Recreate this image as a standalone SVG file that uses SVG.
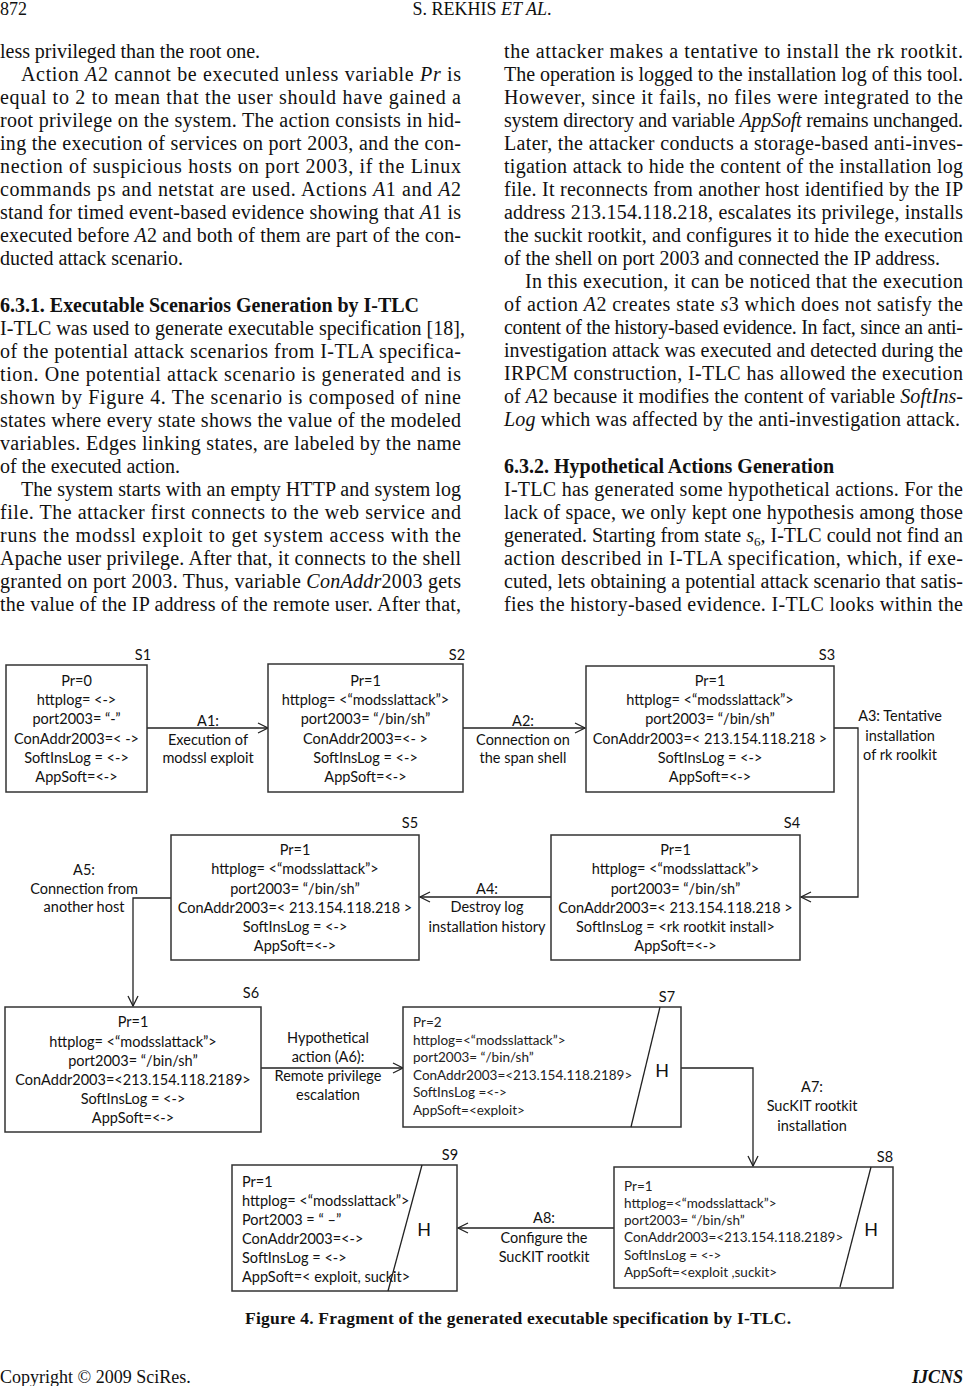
<svg xmlns="http://www.w3.org/2000/svg" width="965" height="1386" viewBox="0 0 965 1386">
<style>
.b{font-family:"Liberation Serif","Times New Roman",serif;font-size:20px;fill:#111}
.h{font-weight:bold}
.i{font-style:italic}
.d{font-family:Lato,"Liberation Sans",sans-serif;font-size:14.5px;fill:#111}
.c{text-anchor:middle}
.sm{font-family:Lato,"Liberation Sans",sans-serif;font-size:13.5px;fill:#222}
.box{fill:#fff;stroke:#333;stroke-width:1.5}
.cn{fill:none;stroke:#222;stroke-width:1.3}
.dg{stroke:#222;stroke-width:1.3}
.H{font-family:Lato,"Liberation Sans",sans-serif;font-size:18px;fill:#111;text-anchor:middle}
</style>
<defs>
<marker id="ar" markerUnits="userSpaceOnUse" markerWidth="14" markerHeight="14" refX="11" refY="6" orient="auto">
<path d="M1,1 L11,6 L1,11" fill="none" stroke="#222" stroke-width="1.3"/>
</marker>
</defs>
<rect width="965" height="1386" fill="#fff"/>

<!-- header -->
<text class="b" x="0" y="15" style="font-size:18px">872</text>
<text class="b" x="482" y="15" text-anchor="middle" style="font-size:18px">S. REKHIS <tspan class="i">ET AL</tspan>.</text>

<!-- left column -->
<g id="left-column">
<text class="b" x="0" y="58" textLength="260" lengthAdjust="spacing">less privileged than the root one.</text>
<text class="b" x="21" y="81" textLength="440" lengthAdjust="spacing">Action <tspan class="i">A</tspan>2 cannot be executed unless variable <tspan class="i">Pr</tspan> is</text>
<text class="b" x="0" y="104" textLength="461" lengthAdjust="spacing">equal to 2 to mean that the user should have gained a</text>
<text class="b" x="0" y="127" textLength="461" lengthAdjust="spacing">root privilege on the system. The action consists in hid-</text>
<text class="b" x="0" y="150" textLength="461" lengthAdjust="spacing">ing the execution of services on port 2003, and the con-</text>
<text class="b" x="0" y="173" textLength="461" lengthAdjust="spacing">nection of suspicious hosts on port 2003, if the Linux</text>
<text class="b" x="0" y="196" textLength="461" lengthAdjust="spacing">commands ps and netstat are used. Actions <tspan class="i">A</tspan>1 and <tspan class="i">A</tspan>2</text>
<text class="b" x="0" y="219" textLength="461" lengthAdjust="spacing">stand for timed event-based evidence showing that <tspan class="i">A</tspan>1 is</text>
<text class="b" x="0" y="242" textLength="461" lengthAdjust="spacing">executed before <tspan class="i">A</tspan>2 and both of them are part of the con-</text>
<text class="b" x="0" y="265" textLength="183" lengthAdjust="spacing">ducted attack scenario.</text>
<text class="b h" x="0" y="312" textLength="419" lengthAdjust="spacing">6.3.1. Executable Scenarios Generation by I-TLC</text>
<text class="b" x="0" y="335" textLength="465" lengthAdjust="spacing">I-TLC was used to generate executable specification [18],</text>
<text class="b" x="0" y="358" textLength="461" lengthAdjust="spacing">of the potential attack scenarios from I-TLA specifica-</text>
<text class="b" x="0" y="381" textLength="461" lengthAdjust="spacing">tion. One potential attack scenario is generated and is</text>
<text class="b" x="0" y="404" textLength="461" lengthAdjust="spacing">shown by Figure 4. The scenario is composed of nine</text>
<text class="b" x="0" y="427" textLength="461" lengthAdjust="spacing">states where every state shows the value of the modeled</text>
<text class="b" x="0" y="450" textLength="461" lengthAdjust="spacing">variables. Edges linking states, are labeled by the name</text>
<text class="b" x="0" y="473" textLength="180" lengthAdjust="spacing">of the executed action.</text>
<text class="b" x="21" y="496" textLength="440" lengthAdjust="spacing">The system starts with an empty HTTP and system log</text>
<text class="b" x="0" y="519" textLength="461" lengthAdjust="spacing">file. The attacker first connects to the web service and</text>
<text class="b" x="0" y="542" textLength="461" lengthAdjust="spacing">runs the modssl exploit to get system access with the</text>
<text class="b" x="0" y="565" textLength="461" lengthAdjust="spacing">Apache user privilege. After that, it connects to the shell</text>
<text class="b" x="0" y="588" textLength="461" lengthAdjust="spacing">granted on port 2003. Thus, variable <tspan class="i">ConAddr</tspan>2003 gets</text>
<text class="b" x="0" y="611" textLength="461" lengthAdjust="spacing">the value of the IP address of the remote user. After that,</text>
</g>

<!-- right column -->
<g id="right-column">
<text class="b" x="504" y="58" textLength="459" lengthAdjust="spacing">the attacker makes a tentative to install the rk rootkit.</text>
<text class="b" x="504" y="81" textLength="459" lengthAdjust="spacing">The operation is logged to the installation log of this tool.</text>
<text class="b" x="504" y="104" textLength="459" lengthAdjust="spacing">However, since it fails, no files were integrated to the</text>
<text class="b" x="504" y="127" textLength="459" lengthAdjust="spacing">system directory and variable <tspan class="i">AppSoft</tspan> remains unchanged.</text>
<text class="b" x="504" y="150" textLength="459" lengthAdjust="spacing">Later, the attacker conducts a storage-based anti-inves-</text>
<text class="b" x="504" y="173" textLength="459" lengthAdjust="spacing">tigation attack to hide the content of the installation log</text>
<text class="b" x="504" y="196" textLength="459" lengthAdjust="spacing">file. It reconnects from another host identified by the IP</text>
<text class="b" x="504" y="219" textLength="459" lengthAdjust="spacing">address 213.154.118.218, escalates its privilege, installs</text>
<text class="b" x="504" y="242" textLength="459" lengthAdjust="spacing">the suckit rootkit, and configures it to hide the execution</text>
<text class="b" x="504" y="265" textLength="436" lengthAdjust="spacing">of the shell on port 2003 and connected the IP address.</text>
<text class="b" x="525" y="288" textLength="438" lengthAdjust="spacing">In this execution, it can be noticed that the execution</text>
<text class="b" x="504" y="311" textLength="459" lengthAdjust="spacing">of action <tspan class="i">A</tspan>2 creates state <tspan class="i">s</tspan>3 which does not satisfy the</text>
<text class="b" x="504" y="334" textLength="459" lengthAdjust="spacing">content of the history-based evidence. In fact, since an anti-</text>
<text class="b" x="504" y="357" textLength="459" lengthAdjust="spacing">investigation attack was executed and detected during the</text>
<text class="b" x="504" y="380" textLength="459" lengthAdjust="spacing">IRPCM construction, I-TLC has allowed the execution</text>
<text class="b" x="504" y="403" textLength="459" lengthAdjust="spacing">of <tspan class="i">A</tspan>2 because it modifies the content of variable <tspan class="i">SoftIns-</tspan></text>
<text class="b" x="504" y="426" textLength="456" lengthAdjust="spacing"><tspan class="i">Log</tspan> which was affected by the anti-investigation attack.</text>
<text class="b h" x="504" y="473" textLength="330" lengthAdjust="spacing">6.3.2. Hypothetical Actions Generation</text>
<text class="b" x="504" y="496" textLength="459" lengthAdjust="spacing">I-TLC has generated some hypothetical actions. For the</text>
<text class="b" x="504" y="519" textLength="459" lengthAdjust="spacing">lack of space, we only kept one hypothesis among those</text>
<text class="b" x="504" y="542" textLength="459" lengthAdjust="spacing">generated. Starting from state <tspan class="i">s</tspan><tspan font-size="13" dy="4">6</tspan><tspan dy="-4">, I-TLC could not find an</tspan></text>
<text class="b" x="504" y="565" textLength="459" lengthAdjust="spacing">action described in I-TLA specification, which, if exe-</text>
<text class="b" x="504" y="588" textLength="459" lengthAdjust="spacing">cuted, lets obtaining a potential attack scenario that satis-</text>
<text class="b" x="504" y="611" textLength="459" lengthAdjust="spacing">fies the history-based evidence. I-TLC looks within the</text>
</g>

<!-- connectors -->
<g id="connectors">
<path class="cn" d="M147,728 H268" marker-end="url(#ar)"/>
<path class="cn" d="M463,728 H585" marker-end="url(#ar)"/>
<path class="cn" d="M834,728 H858 V897 H801" marker-end="url(#ar)"/>
<path class="cn" d="M551,897 H420" marker-end="url(#ar)"/>
<path class="cn" d="M171,898 H133 V1006" marker-end="url(#ar)"/>
<path class="cn" d="M261,1068 H403" marker-end="url(#ar)"/>
<path class="cn" d="M681,1068 H753 V1166" marker-end="url(#ar)"/>
<path class="cn" d="M614,1228 H458" marker-end="url(#ar)"/>
<text class="d c" x="208" y="726">A1:</text>
<text class="d c" x="208" y="745">Execution of</text>
<text class="d c" x="208" y="763">modssl exploit</text>
<text class="d c" x="523" y="726">A2:</text>
<text class="d c" x="523" y="745">Connection on</text>
<text class="d c" x="523" y="763">the span shell</text>
<text class="d c" x="900" y="721">A3: Tentative</text>
<text class="d c" x="900" y="741">installation</text>
<text class="d c" x="900" y="760">of rk roolkit</text>
<text class="d c" x="487" y="894">A4:</text>
<text class="d c" x="487" y="912">Destroy log</text>
<text class="d c" x="487" y="932">installation history</text>
<text class="d c" x="84" y="875">A5:</text>
<text class="d c" x="84" y="894">Connection from</text>
<text class="d c" x="84" y="912">another host</text>
<text class="d c" x="328" y="1043">Hypothetical</text>
<text class="d c" x="328" y="1062">action (A6):</text>
<text class="d c" x="328" y="1081">Remote privilege</text>
<text class="d c" x="328" y="1100">escalation</text>
<text class="d c" x="812" y="1092">A7:</text>
<text class="d c" x="812" y="1111">SucKIT rootkit</text>
<text class="d c" x="812" y="1131">installation</text>
<text class="d c" x="544" y="1223">A8:</text>
<text class="d c" x="544" y="1243">Configure the</text>
<text class="d c" x="544" y="1262">SucKIT rootkit</text>
</g>

<g id="S1">
<rect class="box" x="6" y="665" width="141" height="127"/>
<text class="d c" x="143" y="660">S1</text>
<text class="d c" x="76.5" y="686">Pr=0</text>
<text class="d c" x="76.5" y="705">httplog= &lt;-&gt;</text>
<text class="d c" x="76.5" y="724">port2003= “-”</text>
<text class="d c" x="76.5" y="744">ConAddr2003=&lt; -&gt;</text>
<text class="d c" x="76.5" y="763">SoftInsLog = &lt;-&gt;</text>
<text class="d c" x="76.5" y="782">AppSoft=&lt;-&gt;</text>
</g>

<g id="S2">
<rect class="box" x="268" y="664" width="195" height="128"/>
<text class="d c" x="457" y="660">S2</text>
<text class="d c" x="365.5" y="686">Pr=1</text>
<text class="d c" x="365.5" y="705">httplog= &lt;“modsslattack”&gt;</text>
<text class="d c" x="365.5" y="724">port2003= “/bin/sh”</text>
<text class="d c" x="365.5" y="744">ConAddr2003=&lt;- &gt;</text>
<text class="d c" x="365.5" y="763">SoftInsLog = &lt;-&gt;</text>
<text class="d c" x="365.5" y="782">AppSoft=&lt;-&gt;</text>
</g>

<g id="S3">
<rect class="box" x="586" y="666" width="248" height="126"/>
<text class="d c" x="827" y="660">S3</text>
<text class="d c" x="710" y="686">Pr=1</text>
<text class="d c" x="710" y="705">httplog= &lt;“modsslattack”&gt;</text>
<text class="d c" x="710" y="724">port2003= “/bin/sh”</text>
<text class="d c" x="710" y="744">ConAddr2003=&lt; 213.154.118.218 &gt;</text>
<text class="d c" x="710" y="763">SoftInsLog = &lt;-&gt;</text>
<text class="d c" x="710" y="782">AppSoft=&lt;-&gt;</text>
</g>

<g id="S4">
<rect class="box" x="551" y="835" width="249" height="125"/>
<text class="d c" x="792" y="828">S4</text>
<text class="d c" x="675.5" y="855">Pr=1</text>
<text class="d c" x="675.5" y="874">httplog= &lt;“modsslattack”&gt;</text>
<text class="d c" x="675.5" y="894">port2003= “/bin/sh”</text>
<text class="d c" x="675.5" y="913">ConAddr2003=&lt; 213.154.118.218 &gt;</text>
<text class="d c" x="675.5" y="932">SoftInsLog = &lt;rk rootkit install&gt;</text>
<text class="d c" x="675.5" y="951">AppSoft=&lt;-&gt;</text>
</g>

<g id="S5">
<rect class="box" x="171" y="835" width="248" height="125"/>
<text class="d c" x="410" y="828">S5</text>
<text class="d c" x="295" y="855">Pr=1</text>
<text class="d c" x="295" y="874">httplog= &lt;“modsslattack”&gt;</text>
<text class="d c" x="295" y="894">port2003= “/bin/sh”</text>
<text class="d c" x="295" y="913">ConAddr2003=&lt; 213.154.118.218 &gt;</text>
<text class="d c" x="295" y="932">SoftInsLog = &lt;-&gt;</text>
<text class="d c" x="295" y="951">AppSoft=&lt;-&gt;</text>
</g>

<g id="S6">
<rect class="box" x="5" y="1007" width="256" height="125"/>
<text class="d c" x="251" y="998">S6</text>
<text class="d c" x="133" y="1027">Pr=1</text>
<text class="d c" x="133" y="1047">httplog= &lt;“modsslattack”&gt;</text>
<text class="d c" x="133" y="1066">port2003= “/bin/sh”</text>
<text class="d c" x="133" y="1085">ConAddr2003=&lt;213.154.118.2189&gt;</text>
<text class="d c" x="133" y="1104">SoftInsLog = &lt;-&gt;</text>
<text class="d c" x="133" y="1123">AppSoft=&lt;-&gt;</text>
</g>

<g id="S7">
<rect class="box" x="403" y="1007" width="278" height="120"/>
<line class="dg" x1="660" y1="1007" x2="631" y2="1127"/>
<text class="d c" x="667" y="1002">S7</text>
<text class="H" x="662" y="1077">H</text>
<text class="sm" x="413" y="1027">Pr=2</text>
<text class="sm" x="413" y="1045">httplog=&lt;“modsslattack”&gt;</text>
<text class="sm" x="413" y="1062">port2003= “/bin/sh”</text>
<text class="sm" x="413" y="1080">ConAddr2003=&lt;213.154.118.2189&gt;</text>
<text class="sm" x="413" y="1097">SoftInsLog =&lt;-&gt;</text>
<text class="sm" x="413" y="1115">AppSoft=&lt;exploit&gt;</text>
</g>

<g id="S8">
<rect class="box" x="614" y="1167" width="279" height="121"/>
<line class="dg" x1="871" y1="1167" x2="840" y2="1287"/>
<text class="d c" x="885" y="1162">S8</text>
<text class="H" x="871" y="1236">H</text>
<text class="sm" x="624" y="1191">Pr=1</text>
<text class="sm" x="624" y="1208">httplog=&lt;“modsslattack”&gt;</text>
<text class="sm" x="624" y="1225">port2003= “/bin/sh”</text>
<text class="sm" x="624" y="1242">ConAddr2003=&lt;213.154.118.2189&gt;</text>
<text class="sm" x="624" y="1260">SoftInsLog = &lt;-&gt;</text>
<text class="sm" x="624" y="1277">AppSoft=&lt;exploit ,suckit&gt;</text>
</g>

<g id="S9">
<rect class="box" x="232" y="1165" width="225" height="126"/>
<line class="dg" x1="422" y1="1165" x2="388" y2="1291"/>
<text class="d c" x="450" y="1160">S9</text>
<text class="H" x="424" y="1236">H</text>
<text class="d" x="242" y="1187">Pr=1</text>
<text class="d" x="242" y="1206">httplog= &lt;“modsslattack”&gt;</text>
<text class="d" x="242" y="1225">Port2003 = “ –”</text>
<text class="d" x="242" y="1244">ConAddr2003=&lt;-&gt;</text>
<text class="d" x="242" y="1263">SoftInsLog = &lt;-&gt;</text>
<text class="d" x="242" y="1282">AppSoft=&lt; exploit, suckit&gt;</text>
</g>

<!-- caption and footer -->
<text class="b h" x="518" y="1324" text-anchor="middle" style="font-size:17.5px" textLength="546" lengthAdjust="spacing">Figure 4. Fragment of the generated executable specification by I-TLC.</text>
<text class="b" x="0" y="1383" style="font-size:18px">Copyright © 2009 SciRes.</text>
<text class="b h i" x="963" y="1383" text-anchor="end" style="font-size:18px">IJCNS</text>
</svg>
